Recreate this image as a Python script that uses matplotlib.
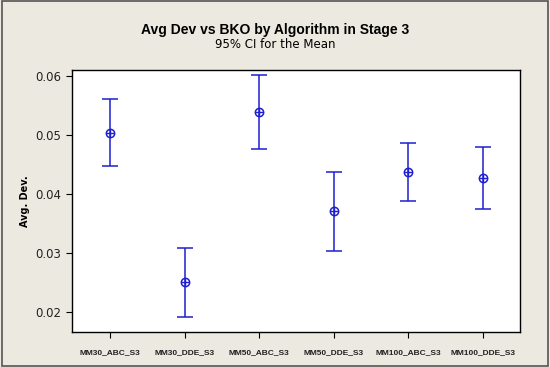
import matplotlib
matplotlib.use('Agg')
import matplotlib.pyplot as plt

# 알고리즘별 평균과 95% 신뢰구간
algorithms = ['MM30_ABC_S3', 'MM30_DDE_S3', 'MM50_ABC_S3',
              'MM50_DDE_S3', 'MM100_ABC_S3', 'MM100_DDE_S3']
means = [0.0504, 0.0250, 0.0538, 0.0371, 0.0437, 0.0427]
upper = [0.0561, 0.0308, 0.0602, 0.0437, 0.0486, 0.0479]
lower = [0.0447, 0.0192, 0.0476, 0.0304, 0.0388, 0.0375]
y_ticks = [0.02, 0.03, 0.04, 0.05, 0.06]

blue = '#1f1fd0'
bg = '#ece9e0'

fig = plt.figure(figsize=(5.5, 3.67), dpi=100, facecolor=bg)
ax = fig.add_axes([72/550, 1 - 332/367, 448/550, 262/367])

x = list(range(1, len(algorithms) + 1))
err = [[m - l for m, l in zip(means, lower)],
       [u - m for u, m in zip(upper, means)]]
ax.errorbar(x, means, yerr=err, fmt='none', ecolor=blue, elinewidth=1.1,
            capsize=6, capthick=1.1)
ax.plot(x, means, 'o', ms=6, mfc='none', mec=blue, mew=1.1)
ax.plot(x, means, '+', ms=6, color=blue, mew=1.0)

ax.set_xlim(0.49, 6.5)
ax.set_ylim(0.0166, 0.0610)
ax.set_xticks(x)
ax.set_xticklabels(algorithms, fontsize=6, fontweight='bold',
                   family='Liberation Sans', color='#222222')
ax.set_yticks(y_ticks)
ax.set_yticklabels([f'{v:.2f}' for v in y_ticks], fontsize=8.5, color='#222222')
ax.tick_params(direction='out', length=4, width=0.8, top=False, right=False)
ax.tick_params(axis='x', pad=8)
for s in ax.spines.values():
    s.set_linewidth(1.0)
ax.set_ylabel('Avg. Dev.', fontsize=7, fontweight='bold', labelpad=4)

fig.text(0.5, 1 - 30/367, 'Avg Dev vs BKO by Algorithm in Stage 3',
         ha='center', va='center', fontsize=10, fontweight='bold',
         family='Liberation Sans')
fig.text(0.5, 1 - 45/367, '95% CI for the Mean',
         ha='center', va='center', fontsize=8.5)

# 바깥 테두리
border = plt.Rectangle((0.004, 0.004), 0.992, 0.992, transform=fig.transFigure,
                       fill=False, edgecolor='#555555', linewidth=1.2)
fig.patches.append(border)

fig.savefig('out.png', dpi=100, facecolor=bg)
